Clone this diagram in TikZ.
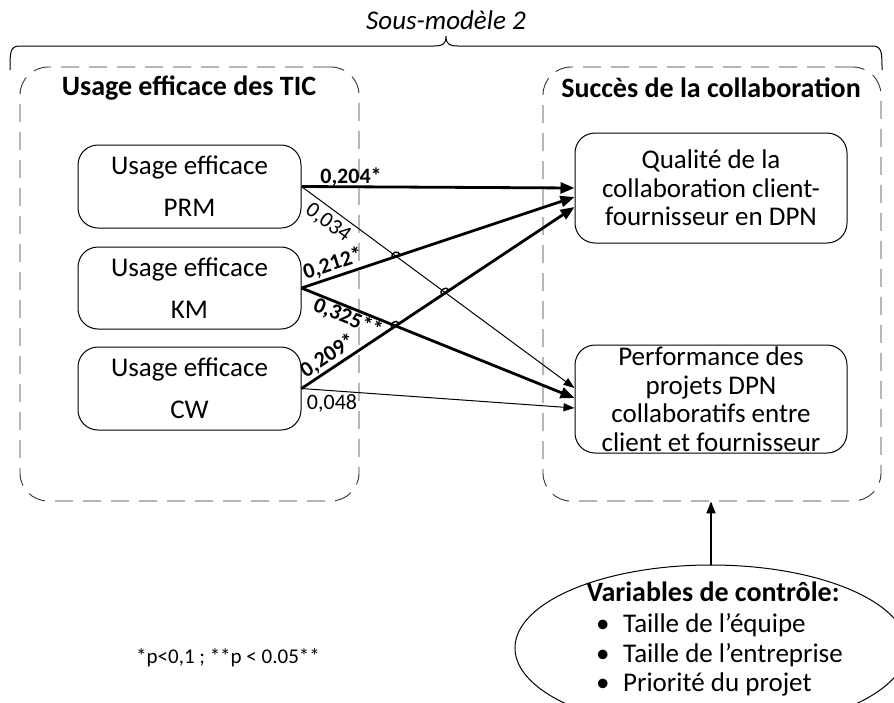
\documentclass[tikz,border=0pt]{standalone}
\usepackage{fontspec}
\setmainfont{Carlito}
\usetikzlibrary{arrows.meta,shapes.geometric,calc,intersections}
\begin{document}
\begin{tikzpicture}[x=1pt,y=-1pt,
  every node/.style={font=\fontsize{27}{28.5}\selectfont, inner sep=0pt},
  ibox/.style={draw, line width=1pt, rounded corners=20pt, minimum width=223pt, minimum height=83pt, align=center, font=\fontsize{27}{42}\selectfont},
  obox/.style={draw, line width=1pt, rounded corners=20pt, minimum width=272pt},
  cont/.style={draw=black!80, line width=0.9pt, dash pattern=on 18pt off 10pt, rounded corners=28pt, minimum width=339pt, minimum height=434pt},
  ttl/.style={font=\bfseries\fontsize{28}{30}\selectfont},
  thk/.style={line width=2.8pt, -{Triangle[length=14pt,width=11pt]}},
  thn/.style={line width=1pt, -{Triangle[length=11pt,width=8pt]}},
  hop/.style={line width=1.4pt},
  coefb/.style={font=\bfseries\fontsize{22}{24}\selectfont},
  coefn/.style={font=\fontsize{22}{24}\selectfont},
]
\useasboundingbox (0,0) rectangle (894,702);

% title and brace
\node[font=\itshape\fontsize{27}{28}\selectfont] (sm) at (446,20) {Sous-modèle 2};
\draw[line width=1pt] (10,70) .. controls (10,52) and (10,46) .. (20,46) -- (434,46)
  .. controls (443,46) and (446,44) .. (446,36)
  .. controls (446,44) and (449,46) .. (458,46) -- (872,46)
  .. controls (882,46) and (882,52) .. (882,70);

% containers
\node[cont] (left) at (189.5,284) {};
\node[cont, minimum width=338pt] (right) at (712,284) {};
\node[ttl] (lt) at (189,88) {Usage efficace des TIC};
\node[ttl] (rt) at (711,88) {Succès de la collaboration};

% left boxes
\node[ibox] (prm) at (189.5,186.5) {Usage efficace\\PRM};
\node[ibox, minimum height=82pt] (km) at (189.5,288) {Usage efficace\\KM};
\node[ibox] (cw) at (189.5,388.5) {Usage efficace\\CW};

% right boxes
\node[obox, minimum height=110pt, align=center] (q) at (711,188) {Qualité de la\\collaboration client-\\fournisseur en DPN};
\node[obox, minimum height=108pt] (perf) at (711,399) {};
\node[align=center] (perftxt) at (711,399) {Performance des\\projets DPN\\collaboratifs entre\\client et fournisseur};

% arrows
\draw[thk] (prm.east) -- (q.west);
\draw[thk, name path=kmq] (km.east) -- ($(q.west)+(0,9)$);
\draw[thk, name path=cwq] (cw.east) -- ($(q.west)+(0,19)$);
\draw[thn, name path=prmp] (prm.east) -- ($(perf.west)+(0,-11)$);
\draw[thk, name path=kmp] (km.east) -- ($(perf.west)+(0,-1)$);
\draw[thn] (cw.east) -- ($(perf.west)+(0,9)$);

% line hops
\path[name intersections={of=kmq and prmp, by=h1}];
\path[name intersections={of=cwq and prmp, by=h2}];
\path[name intersections={of=cwq and kmp, by=h3}];
\draw[hop] ($(h1)!4.5pt!(km.east)$) to[bend left=90, looseness=1.6] ($(h1)!4.5pt!(q.west)$);
\draw[hop] ($(h2)!4.5pt!(cw.east)$) to[bend left=90, looseness=1.6] ($(h2)!4.5pt!(q.west)$);
\draw[hop] ($(h3)!4.5pt!(cw.east)$) to[bend left=90, looseness=1.6] ($(h3)!4.5pt!(q.west)$);

% coefficients
\node[coefb] (c1) at (351,177) {0,204*};
\node[coefn, rotate=-36.4] (c2) at (328,223) {0,034};
\node[coefb, rotate=18.2] (c3) at (333,264) {0,212*};
\node[coefb, rotate=-22] (c4) at (348,318) {0,325**};
\node[coefb, rotate=33.7] (c5) at (328,356) {0,209*};
\node[coefn] (c6) at (332,403) {0,048};

% control variables
\node[draw, ellipse, line width=1pt, minimum width=392pt, minimum height=166pt] (ctl) at (711,648) {};
\draw[line width=1.8pt, -{Triangle[length=12pt,width=9pt]}] (ctl.north) -- (ctl.north |- right.south);
\node[font=\bfseries\fontsize{28}{30}\selectfont] (ctlt) at (713,592) {Variables de contrôle:};
\node[anchor=base west] (i1) at (596,632) {\makebox[27pt][l]{•}Taille de l’équipe};
\node[anchor=base west] (i2) at (596,662) {\makebox[27pt][l]{•}Taille de l’entreprise};
\node[anchor=base west] (i3) at (596,691) {\makebox[27pt][l]{•}Priorité du projet};

% footnote
\node[font=\fontsize{21}{23}\selectfont] (note) at (228,658) {*p<0,1 ; **p < 0.05**};
\end{tikzpicture}
\end{document}
